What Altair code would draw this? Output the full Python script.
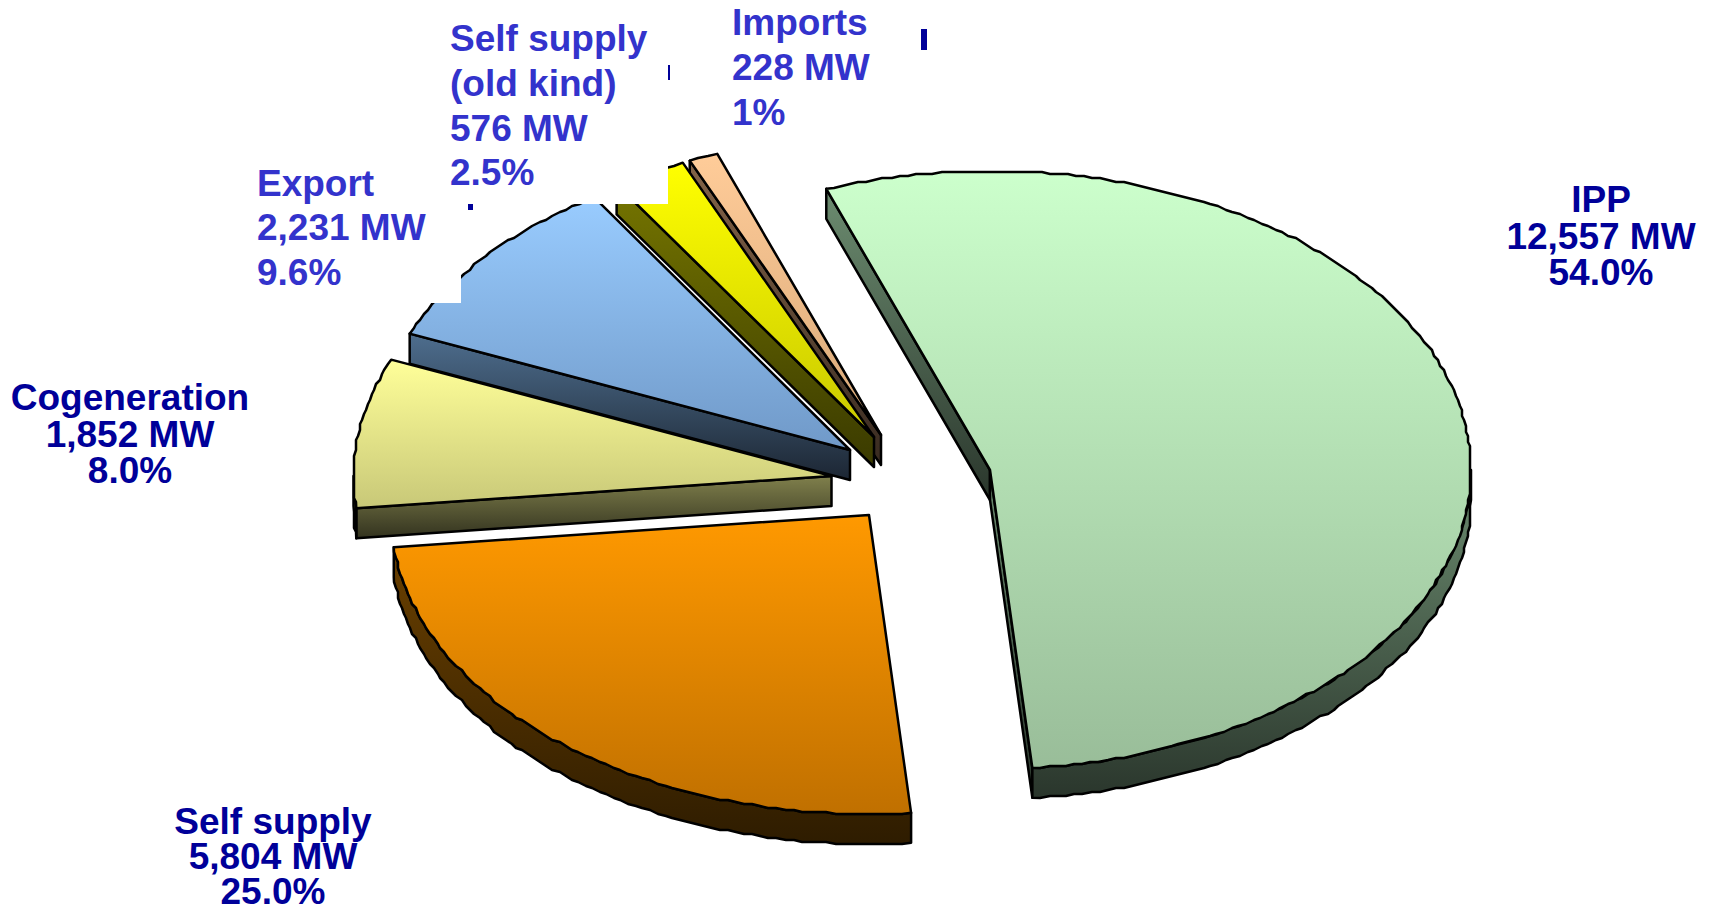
import math
import altair as alt
import pandas as pd

# ---- chart values
categories = ["IPP", "Self supply", "Cogeneration", "Export", "Self supply (old kind)", "Imports"]
mw_values = [12557, 5804, 1852, 2231, 576, 228]

# ---- layout / style of each exploded slice
apex_x = [990, 869, 831.5, 850, 874, 881]
apex_y = [470, 515, 476, 450, 437, 435]
radius_x = [481, 478, 478, 478, 481, 481]
top_colors = [("#ccffcc", "#99bd99"), ("#ff9900", "#c07000"), ("#ffff99", "#c8c878"),
              ("#99ccff", "#7099c8"), ("#ffff00", "#c8c800"), ("#ffcc99", "#d8a878")]
wall_colors = [("#6c8c70", "#2a362c"), ("#6a4000", "#2e1c00"), ("#80804c", "#33331f"),
               ("#4e6e8e", "#1c2633"), ("#757500", "#3a3a00"), ("#846448", "#382a20")]
draw_order = [5, 4, 3, 2, 1, 0]
FIRST_ANGLE = -19.9
boundary_nudge = [0.4, -1.0, 0.4, 0.2, 0, 0]   # small drawing offsets of the slice ends, degrees
RY, DEPTH = 299, 30
GRID = 2          # the reference's rim is a coarse polygon on a pixel grid
ANGLE_STEP = 1.0
DARK, LIGHT = "#000099", "#3333cc"
FONT = "Liberation Sans"
FONT_SIZE = 37
EDGE = 2.5

# ---- labels: text, x, y baseline
dark_center = [
    ("IPP", 1601, 212), ("12,557 MW", 1601, 249), ("54.0%", 1601, 285),
    ("Cogeneration", 130, 410), ("1,852 MW", 130, 447), ("8.0%", 130, 483),
    ("Self supply", 273, 834), ("5,804 MW", 273, 869), ("25.0%", 273, 904),
]
light_left = [
    ("Export", 257, 196), ("2,231 MW", 257, 240), ("9.6%", 257, 285),
    ("Self supply", 450, 51), ("(old kind)", 450, 96), ("576 MW", 450, 141), ("2.5%", 450, 185),
    ("Imports", 732, 35), ("228 MW", 732, 80), ("1%", 732, 125),
]
# white patches and stray fragments seen in the reference
white_patches = [(240, 461, 170, 303), (440, 668, 0, 204)]
stray_bits = [(921, 927, 29, 50), (668, 670, 65, 80), (468, 473, 204, 210)]

X = alt.X("x:Q", scale=alt.Scale(domain=[8, 1703]), axis=None)
Y = alt.Y("y:Q", scale=alt.Scale(domain=[901, 8]), axis=None)


def rim(a0, a1, s, dy=0.0):
    n = max(1, int(abs(a1 - a0) / ANGLE_STEP))
    pts = []
    for k in range(n + 1):
        a = math.radians(a0 + (a1 - a0) * k / n)
        px = apex_x[s] + radius_x[s] * math.sin(a)
        py = apex_y[s] - RY * math.cos(a)
        if 0 < k < n:
            px = round(px / GRID) * GRID
            py = round(py / GRID) * GRID
        pts.append((px, py + dy))
    return pts


def face(points, colors):
    df = pd.DataFrame({"x": [p[0] for p in points], "y": [p[1] for p in points],
                       "i": list(range(len(points)))})
    grad = alt.Gradient(gradient="linear", x1=0, x2=0, y1=0, y2=1,
                        stops=[alt.GradientStop(color=colors[0], offset=0),
                               alt.GradientStop(color=colors[1], offset=1)])
    return alt.Chart(df).mark_line(fill=grad, stroke="black", strokeWidth=EDGE,
                                   interpolate="linear-closed", strokeJoin="round",
                                   clip=False).encode(x=X, y=Y, order="i:Q")


total = sum(mw_values)
starts, ends = [], []
angle = FIRST_ANGLE
for v, nudge in zip(mw_values, boundary_nudge):
    starts.append(angle)
    angle += 360 * v / total + nudge
    ends.append(angle)

layers = []
for s in draw_order:
    a0, a1 = starts[s], ends[s]
    cx, cy = apex_x[s], apex_y[s]
    wc = wall_colors[s]
    if math.sin(math.radians(a0)) < 0:
        p = rim(a0, a0, s)[0]
        layers.append(face([(cx, cy), p, (p[0], p[1] + DEPTH), (cx, cy + DEPTH)], wc))
    if math.sin(math.radians(a1)) > 0:
        p = rim(a1, a1, s)[0]
        layers.append(face([(cx, cy), p, (p[0], p[1] + DEPTH), (cx, cy + DEPTH)], wc))
    lo, hi = max(a0, 90), min(a1, 270)
    if hi > lo:
        top = rim(lo, hi, s)
        bot = rim(lo, hi, s, DEPTH)
        layers.append(face(top + bot[::-1], wc))
    layers.append(face([(cx, cy)] + rim(a0, a1, s), top_colors[s]))


def rects(items, color):
    df = pd.DataFrame(items, columns=["x", "x2", "y", "y2"])
    return alt.Chart(df).mark_rect(color=color).encode(x=X, x2="x2:Q", y=Y, y2="y2:Q")


def texts(items, color, align):
    df = pd.DataFrame(items, columns=["t", "x", "y"])
    return alt.Chart(df).mark_text(font=FONT, fontWeight="bold", fontSize=FONT_SIZE, color=color,
                                   align=align, baseline="alphabetic").encode(x=X, y=Y, text="t:N")


layers.append(rects(white_patches, "white"))
layers.append(rects(stray_bits, DARK))
layers.append(texts(dark_center, DARK, "center"))
layers.append(texts(light_left, LIGHT, "left"))

chart = (
    alt.layer(*layers)
    .properties(width=1695, height=893,
                padding={"left": 0, "top": 0, "right": 0, "bottom": 8},
                autosize=alt.AutoSizeParams(type="none"), background="white")
    .configure_view(stroke=None)
)
chart.save("out.html", embed_options={"renderer": "svg", "actions": False})
